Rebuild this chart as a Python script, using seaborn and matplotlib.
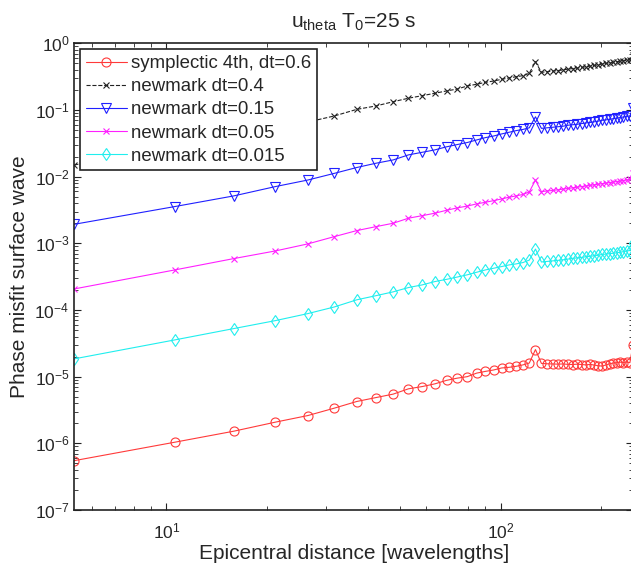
import numpy as np
import pandas as pd
import matplotlib
matplotlib.use("Agg")
import matplotlib.pyplot as plt
import seaborn as sns
from matplotlib.ticker import LogLocator, NullFormatter, FixedLocator

# epicentral distance (wavelengths)
distance = [5.3, 10.6, 15.9, 21.2, 26.5, 31.8, 37.1, 42.4, 47.7, 53.0,
            58.3, 63.6, 68.9, 74.2, 79.5, 84.8, 90.1, 95.4, 100.7, 106.0,
            111.3, 116.6, 121.9, 127.2, 132.5, 137.8, 143.1, 148.4, 153.7, 159.0,
            164.3, 169.6, 174.9, 180.2, 185.5, 190.8, 196.1, 201.4, 206.7, 212.0,
            217.3, 222.6, 227.9, 233.2, 238.5, 243.8, 249.1]

# phase misfit per scheme
sympl_06 = [5.5e-7, 1.04e-6, 1.52e-6, 2.08e-6, 2.61e-6, 3.37e-6, 4.24e-6, 4.86e-6, 5.47e-6, 6.57e-6,
            7.11e-6, 7.8e-6, 8.8e-6, 9.5e-6, 1.0e-5, 1.13e-5, 1.2e-5, 1.26e-5, 1.35e-5, 1.38e-5,
            1.43e-5, 1.5e-5, 1.6e-5, 2.55e-5, 1.58e-5, 1.56e-5, 1.55e-5, 1.54e-5, 1.55e-5, 1.53e-5,
            1.52e-5, 1.54e-5, 1.52e-5, 1.5e-5, 1.53e-5, 1.49e-5, 1.46e-5, 1.44e-5, 1.5e-5, 1.56e-5,
            1.6e-5, 1.62e-5, 1.65e-5, 1.63e-5, 1.66e-5, 1.62e-5, 3.0e-5]
newm_04 = [1.5e-2, 2.7e-2, 3.9e-2, 5.3e-2, 6.6e-2, 0.0813, 0.102, 0.115, 0.133, 0.15,
           0.164, 0.178, 0.193, 0.206, 0.229, 0.243, 0.26, 0.272, 0.288, 0.303,
           0.315, 0.327, 0.355, 0.53, 0.367, 0.375, 0.383, 0.39, 0.398, 0.41,
           0.418, 0.425, 0.435, 0.445, 0.455, 0.465, 0.475, 0.49, 0.5, 0.51,
           0.52, 0.53, 0.54, 0.548, 0.555, 0.565, 0.67]
newm_015 = [1.93e-3, 3.56e-3, 5.14e-3, 7.1e-3, 8.9e-3, 1.12e-2, 1.37e-2, 1.59e-2, 1.78e-2, 2.12e-2,
            2.32e-2, 2.52e-2, 2.8e-2, 3.03e-2, 3.25e-2, 3.55e-2, 3.85e-2, 4.07e-2, 4.37e-2, 4.63e-2,
            4.9e-2, 5.1e-2, 5.4e-2, 7.9e-2, 5.3e-2, 5.4e-2, 5.5e-2, 5.6e-2, 5.7e-2, 5.9e-2,
            6.0e-2, 6.1e-2, 6.25e-2, 6.4e-2, 6.5e-2, 6.65e-2, 6.8e-2, 7.0e-2, 7.1e-2, 7.25e-2,
            7.4e-2, 7.55e-2, 7.7e-2, 7.85e-2, 8.0e-2, 8.15e-2, 1.06e-1]
newm_005 = [2.07e-4, 3.99e-4, 5.9e-4, 7.69e-4, 9.8e-4, 1.26e-3, 1.55e-3, 1.78e-3, 2.0e-3, 2.38e-3,
            2.6e-3, 2.83e-3, 3.13e-3, 3.4e-3, 3.62e-3, 3.9e-3, 4.13e-3, 4.37e-3, 4.63e-3, 4.91e-3,
            5.14e-3, 5.4e-3, 5.9e-3, 8.9e-3, 5.96e-3, 6.1e-3, 6.2e-3, 6.35e-3, 6.5e-3, 6.65e-3,
            6.8e-3, 6.95e-3, 7.1e-3, 7.25e-3, 7.4e-3, 7.55e-3, 7.7e-3, 7.85e-3, 8.0e-3, 8.15e-3,
            8.3e-3, 8.45e-3, 8.6e-3, 8.75e-3, 8.9e-3, 9.1e-3, 1.15e-2]
newm_0015 = [1.85e-5, 3.56e-5, 5.26e-5, 6.93e-5, 8.83e-5, 1.11e-4, 1.42e-4, 1.64e-4, 1.87e-4, 2.17e-4,
             2.38e-4, 2.67e-4, 2.88e-4, 3.12e-4, 3.37e-4, 3.68e-4, 3.99e-4, 4.23e-4, 4.48e-4, 4.74e-4,
             4.91e-4, 5.14e-4, 5.6e-4, 8.2e-4, 5.25e-4, 5.35e-4, 5.45e-4, 5.55e-4, 5.65e-4, 5.8e-4,
             5.95e-4, 6.05e-4, 6.15e-4, 6.3e-4, 6.4e-4, 6.5e-4, 6.65e-4, 6.8e-4, 6.9e-4, 7.0e-4,
             7.1e-4, 7.2e-4, 7.35e-4, 7.5e-4, 7.65e-4, 7.8e-4, 1.0e-3]

y_ticks = [1e-7, 1e-6, 1e-5, 1e-4, 1e-3, 1e-2, 1e-1, 1e0]
x_ticks = [1e1, 1e2]

sns.set_style("ticks")
plt.rcParams['font.family'] = ['Liberation Sans', 'DejaVu Sans']
plt.rcParams['mathtext.fontset'] = 'custom'
plt.rcParams['mathtext.rm'] = 'Liberation Sans'
plt.rcParams['mathtext.it'] = 'Liberation Sans'

fig = plt.figure(figsize=(6.31, 5.65), dpi=100)
ax = fig.add_axes([74.3 / 631, 1 - 510 / 565, (633 - 74.3) / 631, (510 - 43.3) / 565])

# (values, label, colour, marker, linestyle)
series = [
    (sympl_06, "symplectic 4th, dt=0.6", "#ff3a3a", "o", "-"),
    (newm_04, "newmark dt=0.4", "#222222", "x", "--"),
    (newm_015, "newmark dt=0.15", "#2020ff", "v", "-"),
    (newm_005, "newmark dt=0.05", "#ff20ff", "x", "-"),
    (newm_0015, "newmark dt=0.015", "#20eeee", "d", "-"),
]

for vals, lab, col, mk, ls in series:
    df = pd.DataFrame({"dist": distance, "misfit": vals})
    sns.lineplot(data=df, x="dist", y="misfit", ax=ax, color=col, marker=mk,
                 markersize=6.5 if mk != "x" else 5, markerfacecolor="none",
                 markeredgecolor=col, markeredgewidth=0.8, linewidth=0.8,
                 linestyle=ls, label=lab, sort=False)

ax.set_xscale("log")
ax.set_yscale("log")
ax.set_xlim(distance[0], distance[-1])
ax.set_ylim(y_ticks[0], y_ticks[-1])

ax.yaxis.set_major_locator(FixedLocator(y_ticks))
ax.xaxis.set_major_locator(FixedLocator(x_ticks))
ax.yaxis.set_minor_locator(LogLocator(base=10, subs=np.arange(2, 10), numticks=20))
ax.yaxis.set_minor_formatter(NullFormatter())
ax.xaxis.set_minor_formatter(NullFormatter())
ax.tick_params(which="both", direction="in", top=True, right=True, labelsize=12.5, color="#222222")
ax.tick_params(which="major", length=5, width=0.8)
ax.tick_params(which="minor", length=3, width=0.6)
ax.tick_params(axis="x", which="major", pad=8)
for sp in ax.spines.values():
    sp.set_linewidth(1.2)
    sp.set_color("#222222")

ax.set_xlabel("Epicentral distance [wavelengths]", fontsize=15, labelpad=2)
ax.set_ylabel("Phase misfit surface wave", fontsize=15, labelpad=4)
ax.set_title(r"u$_{\mathrm{theta}}$ T$_0$=25 s", fontsize=15, pad=11)

leg = ax.legend(loc="upper left", fontsize=13.4, frameon=True, fancybox=False,
                framealpha=1, edgecolor="#222222", handlelength=2.2, handletextpad=0.2,
                labelspacing=0.33, borderpad=0.3, borderaxespad=0.33)
leg.get_frame().set_linewidth(1.2)

fig.savefig("out.png", dpi=100)
